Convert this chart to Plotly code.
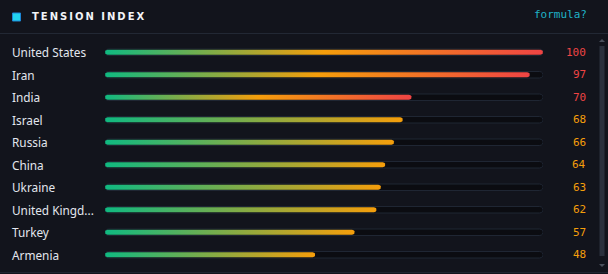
import numpy as np
import plotly.graph_objects as go

countries = ["United States", "Iran", "India", "Israel", "Russia", "China",
             "Ukraine", "United Kingd...", "Turkey", "Armenia"]
values = [100, 97, 70, 68, 66, 64, 63, 62, 57, 48]
title_text = "TENSION INDEX"
link_text = "formula?"

W, H = 608, 274
ML, MR, MT, MB = 105, 65, 41, 8
PW, PH = W - ML - MR, H - MT - MB
XMAX = 100
N = len(countries)
XU = XMAX / PW          # data units per px (x)
YU = N / PH             # data units per px (y)

BG = "#12141c"
GREEN, ORANGE, RED = "#10b981", "#f59e0b", "#ef4444"


def px_x(p):
    return (p - ML) / PW


def px_y(p):
    return (H - MB - p) / PH


def stadium(x0, x1, yc, h_px):
    r = h_px / 2.0
    rx, ry = r * XU, r * YU
    if x1 - x0 < 2 * rx:
        rx = (x1 - x0) / 2
    a1 = np.linspace(np.pi / 2, 3 * np.pi / 2, 12)
    a2 = np.linspace(-np.pi / 2, np.pi / 2, 12)
    xs = np.concatenate([x0 + rx + rx * np.cos(a1), x1 - rx + rx * np.cos(a2)])
    ys = np.concatenate([yc + ry * np.sin(a1), yc + ry * np.sin(a2)])
    xs = np.append(xs, xs[0])
    ys = np.append(ys, ys[0])
    return xs, ys


fig = go.Figure()
for i, (c, v) in enumerate(zip(countries, values)):
    tx, ty = stadium(0, XMAX, i, 6.5)
    fig.add_trace(go.Scatter(x=tx, y=ty, mode="lines", fill="toself",
                             fillcolor="#0b0c11", line=dict(color="#1f2633", width=1),
                             hoverinfo="skip", showlegend=False))
    bx, by = stadium(0, v, i, 5.2)
    if v >= 70:
        cs = [[0, GREEN], [0.5, ORANGE], [1, RED]]
    else:
        cs = [[0, GREEN], [1, ORANGE]]
    fig.add_trace(go.Scatter(x=bx, y=by, mode="lines", fill="toself",
                             line=dict(width=0, color="rgba(0,0,0,0)"),
                             fillgradient=dict(type="horizontal", colorscale=cs,
                                               start=0, stop=v),
                             hoverinfo="skip", showlegend=False))

annotations = []
for i, (c, v) in enumerate(zip(countries, values)):
    annotations.append(dict(x=px_x(10), xref="paper", y=i, yref="y", text=c,
                            showarrow=False, xanchor="left", yanchor="middle",
                            font=dict(family="Noto Sans", size=11.8, color="#e2e6ee")))
    annotations.append(dict(x=px_x(587.5), xref="paper", y=i, yref="y", text=str(v),
                            showarrow=False, xanchor="right", yanchor="middle",
                            font=dict(family="DejaVu Sans Mono", size=11,
                                      color=RED if v >= 70 else ORANGE)))

annotations.append(dict(x=px_x(29.5), xref="paper", y=px_y(16.5), yref="paper",
                        text="<b>" + "\u2009".join(title_text) + "</b>",
                        showarrow=False, xanchor="left", yanchor="middle",
                        font=dict(family="DejaVu Sans", size=10, color="#f2f4f8")))
annotations.append(dict(x=px_x(589), xref="paper", y=px_y(15), yref="paper",
                        text=link_text, showarrow=False, xanchor="right", yanchor="middle",
                        font=dict(family="DejaVu Sans Mono", size=11, color="#1fb3c8")))

shapes = [
    dict(type="rect", xref="paper", yref="paper", x0=px_x(12.5), x1=px_x(20.5),
         y0=px_y(21), y1=px_y(13), fillcolor="#22d3ee", line=dict(color="#1c86d6", width=1)),
    dict(type="line", xref="paper", yref="paper", x0=px_x(0), x1=px_x(608),
         y0=px_y(33.5), y1=px_y(33.5), line=dict(color="#222834", width=1)),
    dict(type="line", xref="paper", yref="paper", x0=px_x(0), x1=px_x(608),
         y0=px_y(272.5), y1=px_y(272.5), line=dict(color="#1f2430", width=1)),
    dict(type="rect", xref="paper", yref="paper", x0=px_x(599.5), x1=px_x(604.5),
         y0=px_y(256), y1=px_y(46), fillcolor="#2a303c", line=dict(width=0)),
    dict(type="path", xref="paper", yref="paper",
         path="M %f %f L %f %f L %f %f Z" % (px_x(599), px_y(42), px_x(605), px_y(42),
                                            px_x(602), px_y(39)),
         fillcolor="#4a505c", line=dict(width=0)),
    dict(type="path", xref="paper", yref="paper",
         path="M %f %f L %f %f L %f %f Z" % (px_x(599), px_y(264), px_x(605), px_y(264),
                                            px_x(602), px_y(267)),
         fillcolor="#4a505c", line=dict(width=0)),
]

fig.update_layout(
    width=W, height=H,
    margin=dict(l=ML, r=MR, t=MT, b=MB),
    paper_bgcolor=BG, plot_bgcolor=BG,
    xaxis=dict(range=[0, XMAX], visible=False, fixedrange=True),
    yaxis=dict(range=[N - 0.5, -0.5], visible=False, fixedrange=True),
    annotations=annotations, shapes=shapes,
    showlegend=False,
)

fig.write_html("out.html", config={"displayModeBar": False})
